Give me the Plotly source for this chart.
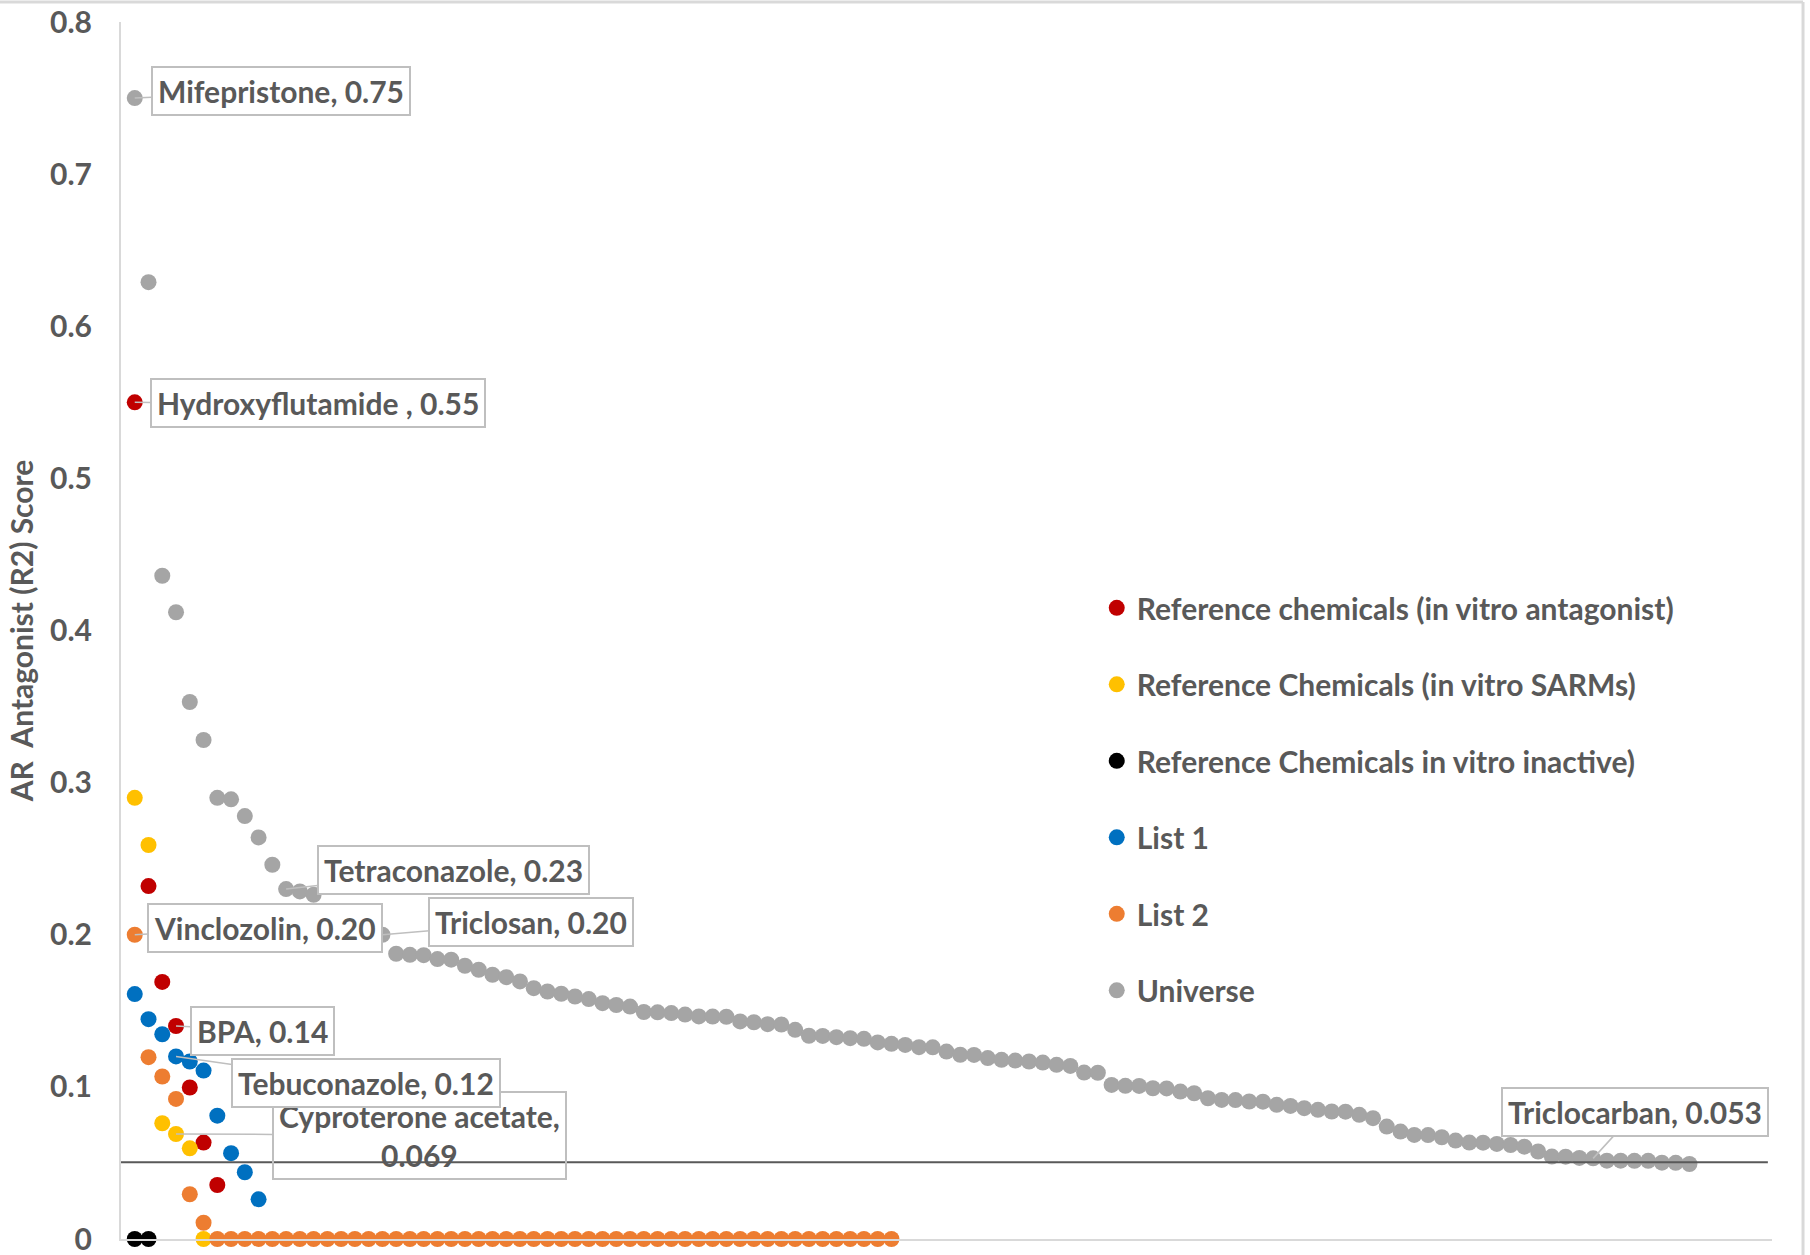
import plotly.graph_objects as go

# ---- series (rank position is implied by list order) ----
series_names = [
    "Reference chemicals (in vitro antagonist)",
    "Reference Chemicals (in vitro SARMs)",
    "Reference Chemicals in vitro inactive)",
    "List 1",
    "List 2",
    "Universe",
]

ref_antagonist = [0.55, 0.232, 0.169, 0.14, 0.0996, 0.0634, 0.0355]
ref_sarms = [0.290, 0.259, 0.0761, 0.069, 0.0596, 0.0]
ref_inactive = [0.0, 0.0]
list_1 = [0.161, 0.1445, 0.1346, 0.12, 0.1167, 0.1107, 0.0811, 0.0564, 0.0439, 0.0261]
list_2 = [0.20, 0.1195, 0.1068, 0.0921, 0.0294, 0.0107] + [0.0] * 50
universe = [
    0.75, 0.629, 0.436, 0.412, 0.353, 0.328, 0.290, 0.289, 0.278, 0.264,
    0.246, 0.23, 0.2285, 0.2263, 0.212, 0.209, 0.206, 0.203, 0.20, 0.1875,
    0.1868, 0.1866, 0.184, 0.1836, 0.1796, 0.177, 0.1737, 0.1721, 0.1693, 0.1649,
    0.1627, 0.1612, 0.1594, 0.1577, 0.155, 0.1538, 0.1528, 0.1492, 0.149, 0.1485,
    0.1475, 0.1463, 0.1462, 0.1461, 0.143, 0.1425, 0.1412, 0.1410, 0.1375, 0.1336,
    0.1335, 0.1327, 0.132, 0.1316, 0.1292, 0.1283, 0.1276, 0.1261, 0.1260, 0.1232,
    0.1211, 0.1210, 0.1189, 0.1178, 0.1173, 0.1167, 0.116, 0.1145, 0.1138, 0.1094,
    0.1093, 0.1013, 0.1007, 0.1006, 0.0991, 0.0990, 0.0969, 0.0958, 0.0925, 0.0914,
    0.0913, 0.0904, 0.0903, 0.0882, 0.0875, 0.086, 0.0849, 0.0838, 0.0837, 0.0816,
    0.0794, 0.0739, 0.0706, 0.0684, 0.0683, 0.0669, 0.0647, 0.0634, 0.0633, 0.0625,
    0.0618, 0.0607, 0.0575, 0.0542, 0.0541, 0.0533, 0.053, 0.0515, 0.0515, 0.0514,
    0.0514, 0.0502, 0.0501, 0.0493,
]
series_values = [ref_antagonist, ref_sarms, ref_inactive, list_1, list_2, universe]

# activity threshold drawn across the chart
threshold = 0.0505

# ---- labelled chemicals ----
label_names = ["Mifepristone", "Hydroxyflutamide ", "Tetraconazole", "Vinclozolin",
               "Triclosan", "BPA", "Cyproterone acetate", "Tebuconazole", "Triclocarban"]
label_series = [5, 0, 5, 4, 5, 0, 1, 3, 5]
label_points = [1, 1, 12, 1, 19, 4, 4, 4, 107]
label_decimals = [2, 2, 2, 2, 2, 2, 3, 2, 3]

y_ticks = [0, 0.1, 0.2, 0.3, 0.4, 0.5, 0.6, 0.7, 0.8]
y_tick_text = ["0", "0.1", "0.2", "0.3", "0.4", "0.5", "0.6", "0.7", "0.8"]

# ---- styling ----
colors = ["#C00000", "#FFC000", "#000000", "#0070C0", "#ED7D31", "#A5A5A5"]
TEXT = "#595959"
FONT = "Lato"
FSIZE = 30

# callout offsets (pixels from the point to the box centre) and fills
callout_offsets = [(146, -7), (183, 1), (167, -19), (130, -7), (149, -13),
                   (86, 5), (243, 1), (190, 27), (42, -46)]
callout_fill = ["white", "white", "white", "white", "white",
                "white", "rgba(0,0,0,0)", "white", "white"]

fig = go.Figure()
for name, color, vals in zip(series_names, colors, series_values):
    fig.add_trace(go.Scatter(
        x=list(range(1, len(vals) + 1)),
        y=vals,
        mode="markers",
        name=name,
        legendgroup=name,
        marker=dict(color=color, size=16, line=dict(width=0)),
        cliponaxis=False,
        hoverinfo="x+y+name",
    ))

annotations = []
for i, nm in enumerate(label_names):
    vals = series_values[label_series[i]]
    idx = label_points[i]
    v = vals[idx - 1]
    val_txt = f"{v:.{label_decimals[i]}f}"
    sep = ",<br>" if nm == "Cyproterone acetate" else ", "
    ax, ay = callout_offsets[i]
    annotations.append(dict(
        x=idx, y=v, xref="x", yref="y",
        text=nm + sep + val_txt,
        showarrow=True, arrowhead=0, arrowwidth=1.5, arrowcolor="#BFBFBF",
        standoff=0, ax=ax, ay=ay,
        bgcolor=callout_fill[i], bordercolor="#BFBFBF", borderwidth=2, borderpad=5,
        font=dict(family=FONT, size=FSIZE, color=TEXT, weight="bold"),
    ))

shapes = [
    dict(type="line", xref="x", yref="y", x0=0, x1=119.7, y0=threshold, y1=threshold,
         line=dict(color="#595959", width=2), layer="above"),
    # frame lines along the top and right of the page
    dict(type="line", xref="paper", yref="paper", x0=-0.0733, x1=1.0188, y0=1.0164, y1=1.0164,
         line=dict(color="#D9D9D9", width=3)),
    dict(type="line", xref="paper", yref="paper", x0=1.0188, x1=1.0188, y0=-0.02, y1=1.0164,
         line=dict(color="#D9D9D9", width=3)),
]

fig.update_layout(
    width=1810, height=1255,
    margin=dict(l=121, r=38, t=22, b=16, autoexpand=False),
    paper_bgcolor="white", plot_bgcolor="white",
    font=dict(family=FONT, size=FSIZE, color=TEXT, weight="bold"),
    showlegend=True,
    legend=dict(
        x=0.591, y=0.540, xanchor="left", yanchor="top",
        font=dict(family=FONT, size=FSIZE, color=TEXT, weight="bold"),
        tracegroupgap=34.5, bgcolor="rgba(0,0,0,0)", traceorder="grouped",
        itemsizing="trace",
    ),
    annotations=annotations,
    shapes=shapes,
    xaxis=dict(range=[0, 120], showticklabels=False, ticks="", showgrid=False, automargin=False,
               zeroline=False, showline=True, linecolor="#D9D9D9", linewidth=2),
    yaxis=dict(range=[0, 0.8], tickvals=y_ticks, ticktext=y_tick_text, automargin=False,
               ticks="outside", ticklen=21, tickcolor="rgba(0,0,0,0)",
               ticklabeloverflow="allow",
               showgrid=False, zeroline=False, showline=True, linecolor="#D9D9D9", linewidth=2,
               tickfont=dict(family=FONT, size=FSIZE, color=TEXT, weight="bold"),
               title=dict(text="AR\u00a0 Antagonist (R2) Score", standoff=8,
                          font=dict(family=FONT, size=FSIZE, color=TEXT, weight="bold"))),
)

fig.write_html("out.html")
